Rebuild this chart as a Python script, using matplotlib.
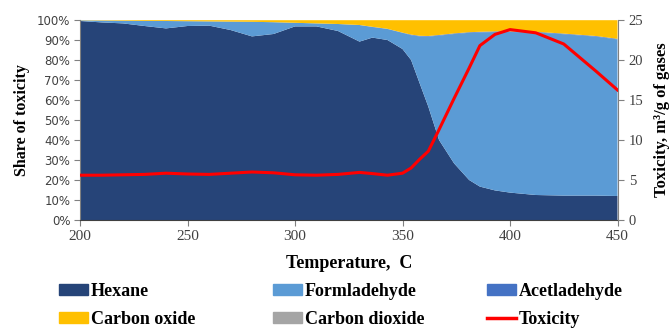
import matplotlib
matplotlib.use('Agg')
import matplotlib.pyplot as plt
from matplotlib.patches import Patch
from matplotlib.lines import Line2D

# temperature, C
temps = [200, 210, 220, 230, 240, 250, 260, 270, 280, 290, 300, 310, 320, 330,
         336, 343, 350, 354, 358, 362, 367, 374, 381, 386, 393, 400, 412, 425,
         440, 450]

# share of toxicity, %
hexane = [99.5, 98.8, 98.3, 97.0, 95.8, 97.0, 97.2, 95.0, 91.8, 93.0, 96.8,
          96.8, 94.5, 89.2, 91.2, 90.0, 85.5, 80.0, 68.3, 56.7, 40.0, 28.3,
          20.0, 16.7, 14.8, 13.7, 12.5, 12.2, 12.2, 12.0]
formaldehyde = [0.3, 0.9, 1.3, 2.5, 3.7, 2.4, 2.1, 4.2, 7.3, 5.9, 1.8, 1.5,
                3.5, 8.3, 5.3, 5.5, 8.1, 12.4, 23.5, 35.0, 52.2, 64.7, 73.6,
                77.1, 79.2, 80.3, 81.3, 80.7, 79.5, 78.3]
acetaldehyde = [0.0, 0.0, 0.0, 0.0, 0.0, 0.0, 0.0, 0.0, 0.0, 0.0, 0.0, 0.0,
                0.0, 0.0, 0.1, 0.1, 0.1, 0.3, 0.3, 0.3, 0.3, 0.3, 0.3, 0.3,
                0.3, 0.3, 0.3, 0.3, 0.3, 0.3]
carbon_oxide = [0.1, 0.2, 0.3, 0.4, 0.4, 0.5, 0.6, 0.7, 0.8, 1.0, 1.3, 1.6,
                1.9, 2.4, 3.3, 4.3, 6.2, 7.2, 7.8, 7.9, 7.4, 6.6, 6.0, 5.8,
                5.6, 5.6, 5.8, 6.7, 7.9, 9.3]
carbon_dioxide = [0.1] * 30

# toxicity, m3/g of gases
toxicity = [5.6, 5.6, 5.65, 5.7, 5.85, 5.75, 5.7, 5.85, 6.0, 5.9, 5.65, 5.6,
            5.7, 5.95, 5.8, 5.6, 5.85, 6.5, 7.6, 8.6, 11.3, 15.2, 19.0, 21.8,
            23.2, 23.8, 23.4, 22.0, 18.6, 16.25]

names = ['Hexane', 'Formladehyde', 'Acetladehyde', 'Carbon oxide', 'Carbon dioxide']
colors = ['#264478', '#5B9BD5', '#4472C4', '#FFC000', '#A5A5A5']

serif = 'Liberation Serif'
tick_col = '#404040'

fig = plt.figure(figsize=(6.7, 3.29), dpi=100)
ax = fig.add_axes([80 / 670, 1 - 220 / 329, 537.5 / 670, 200 / 329])

ax.stackplot(temps, [v / 100 for v in hexane], [v / 100 for v in formaldehyde],
             [v / 100 for v in acetaldehyde], [v / 100 for v in carbon_oxide],
             [v / 100 for v in carbon_dioxide], colors=colors, linewidth=0)
ax.set_xlim(200, 450)
ax.set_ylim(0, 1)
ax.set_xticks([200, 250, 300, 350, 400, 450])
ax.set_yticks([i / 10 for i in range(11)])
ax.set_yticklabels(['%d%%' % (i * 10) for i in range(11)])
for lab in ax.get_yticklabels():
    lab.set_fontfamily('DejaVu Sans')
    lab.set_fontsize(8.5)
    lab.set_color(tick_col)
for lab in ax.get_xticklabels():
    lab.set_fontfamily(serif)
    lab.set_fontsize(11)
    lab.set_color(tick_col)
ax.tick_params(direction='out', length=4, color='#808080', pad=3)
ax.spines['top'].set_visible(False)
ax.spines['right'].set_visible(False)
ax.spines['left'].set_color('#808080')
ax.spines['bottom'].set_color('#404040')
ax.set_ylabel('Share of toxicity', fontfamily=serif, fontweight='bold', fontsize=11.5, labelpad=5)
ax.set_xlabel('Temperature,  C', fontfamily=serif, fontweight='bold', fontsize=13, labelpad=9)

ax2 = ax.twinx()
ax2.plot(temps, toxicity, color='#FF0000', linewidth=2.2)
ax2.set_ylim(0, 25)
ax2.set_yticks([0, 5, 10, 15, 20, 25])
for lab in ax2.get_yticklabels():
    lab.set_fontfamily(serif)
    lab.set_fontsize(10.5)
    lab.set_color(tick_col)
ax2.tick_params(direction='out', length=4, color='#808080', pad=4)
for s in ['top', 'left', 'bottom']:
    ax2.spines[s].set_visible(False)
ax2.spines['right'].set_color('#808080')
ax2.set_ylabel('Toxicity, m³/g of gases', fontfamily=serif, fontweight='bold', fontsize=12, labelpad=8)

handles = [Patch(color=c) for c in colors] + [Line2D([], [], color='#FF0000', linewidth=2.5)]
labels = names + ['Toxicity']
columns = [[0, 3], [1, 4], [2, 5]]
xs = [59, 273, 487]
for col, x in zip(columns, xs):
    fig.legend([handles[i] for i in col], [labels[i] for i in col],
               loc='upper left', bbox_to_anchor=(x / 670, 1 - 283 / 329),
               frameon=False, handlelength=1.6, handleheight=0.6, handletextpad=0.15,
               labelspacing=0.6, borderpad=0, borderaxespad=0,
               prop={'family': serif, 'weight': 'bold', 'size': 13})

fig.savefig('out.png', dpi=100)
